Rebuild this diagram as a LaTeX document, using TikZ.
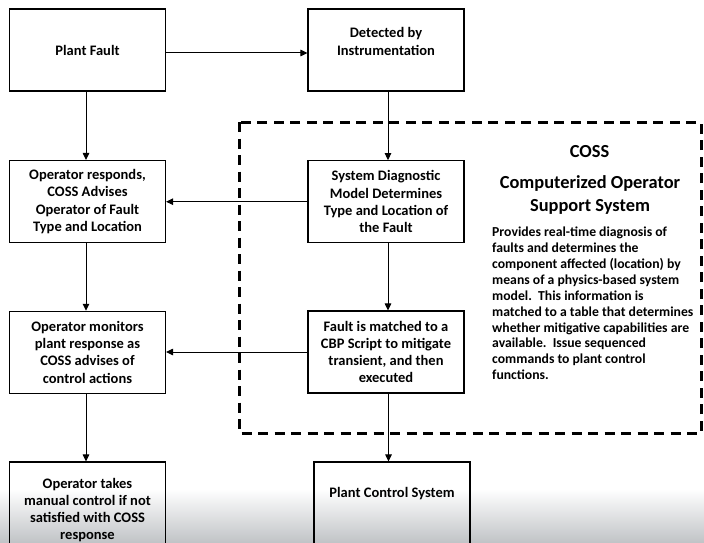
\documentclass[tikz,border=0pt]{standalone}
\usepackage{fontspec}
\setmainfont{Carlito}
\usetikzlibrary{arrows.meta}
\definecolor{floorgray}{RGB}{192,195,198}
\tikzset{
  flowbox/.style={draw=black, line width=1.1pt, minimum width=156pt, minimum height=82pt,
    inner sep=2pt, align=center, font=\fontsize{14.5pt}{17.3pt}\selectfont\bfseries},
  flow/.style={draw=black, line width=1pt, -{Triangle[length=7pt,width=6.5pt]}},
  cossborder/.style={draw=black, line width=3pt, dash pattern=on 10pt off 6.5pt},
  cosstitle/.style={inner sep=0pt, align=center, font=\fontsize{18.4pt}{23pt}\selectfont\bfseries},
  cossbody/.style={inner sep=0pt, align=left, font=\fontsize{13.7pt}{15.9pt}\selectfont\bfseries}
}
\begin{document}
\begin{tikzpicture}[x=1pt, y=-1pt]
  \clip (0,0) rectangle (704,543);
  \fill[white] (0,0) rectangle (704,543);
  % soft grey floor along the lower edge
  \shade[top color=white, bottom color=floorgray] (0,489) rectangle (704,543);

  % dashed frame of the support system
  \draw[cossborder] (239,122) rectangle (701,433);

  % process boxes
  \node[flowbox] (pf)  at (87.5,50)    {Plant Fault};
  \node[flowbox] (det) at (386,50)     {Detected by\\Instrumentation\\\mbox{}};
  \node[flowbox] (or)  at (87.5,201.5) {Operator responds,\\COSS Advises\\Operator of Fault\\Type and Location};
  \node[flowbox] (sd)  at (386,201.7)  {System Diagnostic\\Model Determines\\Type and Location of\\the Fault};
  \node[flowbox] (om)  at (87.5,352.3) {Operator monitors\\plant response as\\COSS advises of\\control actions};
  \node[flowbox] (fm)  at (386,352)    {Fault is matched to a\\CBP Script to mitigate\\transient, and then\\executed};
  \node[flowbox, minimum height=96pt] (ot) at (87.5,510) {Operator takes\\manual control if not\\satisfied with COSS\\response};
  \node[flowbox, minimum height=96pt] (pc) at (392,510)  {Plant Control System\\\mbox{}\\\mbox{}};

  % connectors
  \draw[flow] ([yshift=-3pt]pf.east) -- ([yshift=-3pt]det.west);
  \draw[flow] ([xshift=-1.5pt]pf.south) -- ([xshift=-1.5pt]or.north);
  \draw[flow] ([xshift=2pt]det.south) -- ([xshift=2pt]sd.north);
  \draw[flow] (sd.west) -- (sd.west -| or.east);
  \draw[flow] ([xshift=2pt]sd.south) -- ([xshift=2pt]fm.north);
  \draw[flow] ([xshift=-1.5pt]or.south) -- ([xshift=-1.5pt]om.north);
  \draw[flow] (fm.west) -- (fm.west -| om.east);
  \draw[flow] ([xshift=-1.5pt]om.south) -- ([xshift=-1.5pt]ot.north);
  \draw[flow] ([xshift=2.5pt]fm.south) coordinate (fmout) -- (fmout |- pc.north);

  % description of the support system
  \node[cosstitle] (coss) at (589.5,151.7) {COSS};
  \node[cosstitle] (cossname) at (590,194.5) {Computerized Operator\\Support System};
  \node[cossbody, anchor=west] (cossdesc) at (492,303.4) {Provides real-time diagnosis of\\faults and determines the\\component affected (location) by\\means of a physics-based system\\model.\ \ This information is\\matched to a table that determines\\whether mitigative capabilities are\\available.\ \ Issue sequenced\\commands to plant control\\functions.};
\end{tikzpicture}
\end{document}
